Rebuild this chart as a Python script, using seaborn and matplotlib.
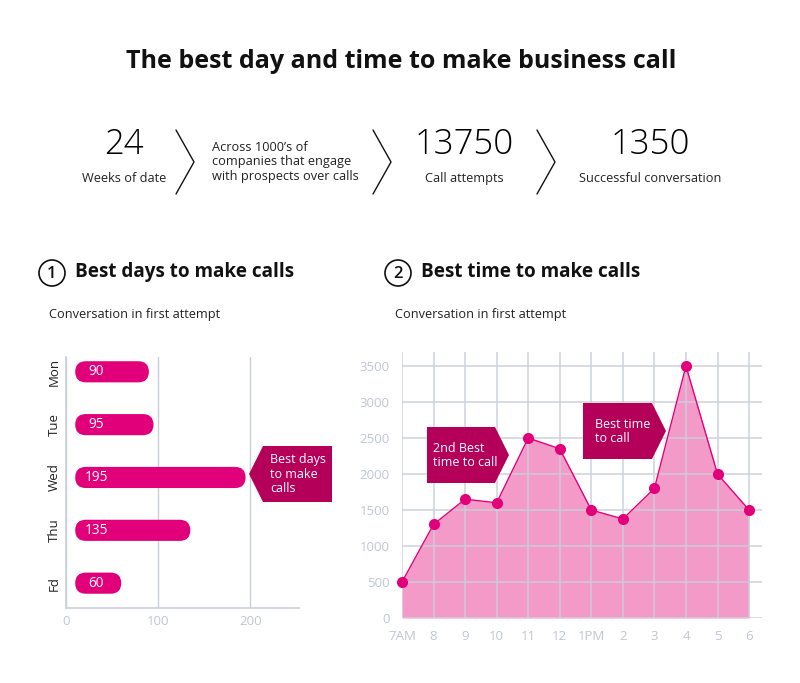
import numpy as np
import seaborn as sns
from matplotlib import pyplot as plt
from matplotlib.patches import FancyBboxPatch, Polygon, Ellipse
from matplotlib.lines import Line2D

# chart data
days = ['Mon', 'Tue', 'Wed', 'Thu', 'Fd']
day_calls = [90, 95, 195, 135, 60]
hours = ['7AM', '8', '9', '10', '11', '12', '1PM', '2', '3', '4', '5', '6']
hour_calls = [500, 1300, 1650, 1600, 2500, 2350, 1500, 1375, 1800, 3500, 2000, 1500]
stat_values = ['24', '13750', '1350']
stat_labels = ['Weeks of date', 'Call attempts', 'Successful conversation']

PINK = '#e2007a'
DARK = '#b5005a'
FILL = '#f49ac9'
GRID = '#c9cfd9'
TICK = '#bfc7d2'
TEXT = '#222222'

sns.set_theme(style='white')
plt.rcParams['font.family'] = ['Open Sans', 'DejaVu Sans']

W, H = 800, 683
fig = plt.figure(figsize=(8, 6.83), dpi=100)


def px(x, y):
    # pixel position (from top-left) to figure fraction
    return x / W, 1 - y / H


def callout(points, color):
    fig.patches.append(Polygon([px(x, y) for x, y in points], closed=True,
                               transform=fig.transFigure, fc=color, ec='none'))


# header
fig.text(*px(401, 61), 'The best day and time to make business call', ha='center',
         va='center', fontsize=18, fontweight='bold', color='#111111')
for x, v, l in zip([124, 464, 650], stat_values, stat_labels):
    fig.text(*px(x, 145), v, ha='center', va='center', fontsize=25,
             fontweight='light', color='#000000')
    fig.text(*px(x, 178), l, ha='center', va='center', fontsize=9.2, color=TEXT)
fig.text(*px(212, 162), "Across 1000’s of\ncompanies that engage\nwith prospects over calls",
         ha='left', va='center', fontsize=9.2, color=TEXT, linespacing=1.15)
for cx in [176, 373, 537]:
    xs, ys = zip(px(cx, 130), px(cx + 18, 162), px(cx, 194))
    fig.lines.append(Line2D(xs, ys, transform=fig.transFigure, color='#111111', lw=1))

# section headers
for cx, num, title in [(52, '1', 'Best days to make calls'), (398, '2', 'Best time to make calls')]:
    fig.patches.append(Ellipse(px(cx, 273), 26 / W, 26 / H, transform=fig.transFigure,
                               fc='white', ec='#111111', lw=1.2))
    fig.text(*px(cx, 274), num, ha='center', va='center', fontsize=12,
             fontweight='semibold', color='#111111')
    fig.text(*px(cx + 23, 272), title, ha='left', va='center', fontsize=13.6,
             fontweight='bold', color='#111111')
    fig.text(*px(cx - 3, 314), 'Conversation in first attempt', ha='left', va='center',
             fontsize=9.2, color=TEXT)

# left chart: days
ax1 = fig.add_axes([66 / W, (H - 608) / H, 233 / W, 251 / H])
sns.barplot(x=day_calls, y=days, orient='h', color=PINK, width=0.4, ax=ax1)
xmax, ylo, yhi = 253, 4.47, -0.28
ax1.set_xlim(0, xmax)
ax1.set_ylim(ylo, yhi)
xppu = 233 / xmax
yppu = 251 / (ylo - yhi)
for p, v in zip(list(ax1.patches), day_calls):
    y0, h = p.get_y(), p.get_height()
    p.remove()
    r = (h / 2) * yppu / xppu
    ax1.add_patch(FancyBboxPatch((10, y0), v - 10, h,
                                 boxstyle=f'round,pad=0,rounding_size={r}',
                                 mutation_aspect=(h / 2) / r, fc=PINK, ec='none', zorder=3))
    ax1.text(33, y0 + h / 2, str(v), ha='center', va='center', color='white',
             fontsize=9.8, zorder=4)
ax1.set_xticks([0, 100, 200])
ax1.xaxis.grid(True, color=GRID, lw=1)
ax1.set_axisbelow(True)
for s in ['top', 'right']:
    ax1.spines[s].set_visible(False)
for s in ['left', 'bottom']:
    ax1.spines[s].set_color(GRID)
    ax1.spines[s].set_linewidth(1.2)
ax1.tick_params(axis='x', colors=TICK, length=0, pad=5, labelsize=9.5)
ax1.tick_params(axis='y', labelcolor=TEXT, length=0, pad=4, labelsize=9.5)
for t in ax1.get_yticklabels():
    t.set_rotation(90)
    t.set_va('center')

callout([(249, 474), (263, 446), (332, 446), (332, 502), (263, 502)], DARK)
fig.text(*px(270, 474), 'Best days\nto make\ncalls', ha='left', va='center', color='white',
         fontsize=9, linespacing=1.1)

# right chart: hours
ax2 = fig.add_axes([402 / W, (H - 618) / H, 360 / W, 266 / H])
pos = np.arange(len(hours))
ax2.fill_between(pos, hour_calls, color=FILL, lw=0, zorder=1)
sns.lineplot(x=pos, y=hour_calls, color=PINK, marker='o', markersize=8,
             markeredgewidth=0, lw=1, ax=ax2, zorder=3, clip_on=False)
ax2.set_xlim(0, 11.41)
ax2.set_ylim(0, 3694)
ax2.set_xticks(pos, hours)
ax2.set_yticks(range(0, 3501, 500))
ax2.grid(True, color=GRID, lw=1.2, alpha=0.85)
ax2.set_axisbelow(False)
for s in ax2.spines.values():
    s.set_visible(False)
ax2.tick_params(axis='x', colors=TICK, length=0, pad=9, labelsize=9.5)
ax2.tick_params(axis='y', colors=TICK, length=0, pad=9, labelsize=9.5)

callout([(427, 427), (495, 427), (509, 455), (495, 483), (427, 483)], DARK)
fig.text(*px(433, 455), '2nd Best\ntime to call', ha='left', va='center', color='white',
         fontsize=9, linespacing=1.1)
callout([(583, 403), (652, 403), (666, 431), (652, 459), (583, 459)], DARK)
fig.text(*px(595, 431), 'Best time\nto call', ha='left', va='center', color='white',
         fontsize=9, linespacing=1.1)

fig.savefig('out.png', dpi=100, facecolor='white')
